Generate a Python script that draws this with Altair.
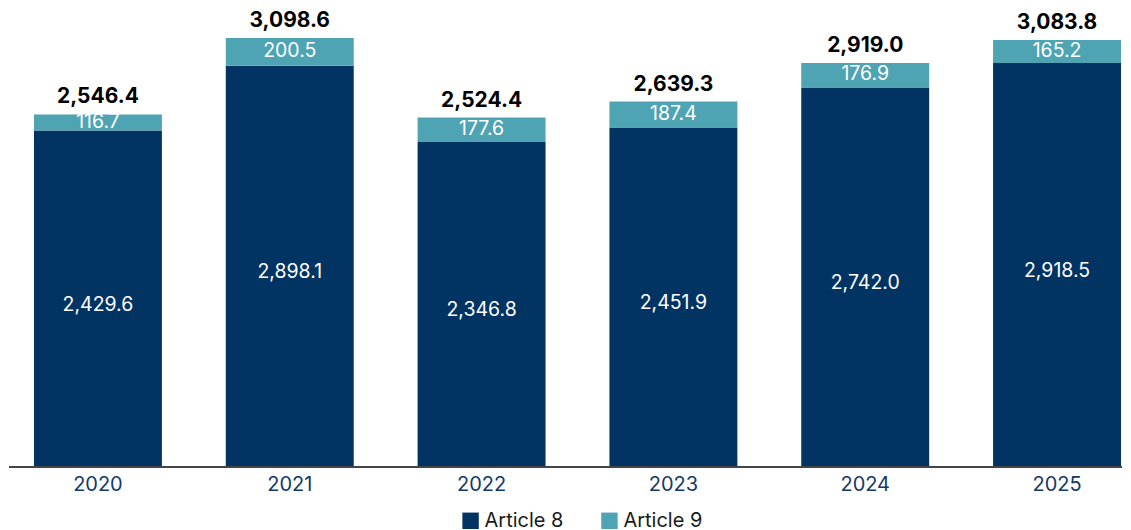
import altair as alt
import pandas as pd

years = ["2020", "2021", "2022", "2023", "2024", "2025"]
article8 = [2429.6, 2898.1, 2346.8, 2451.9, 2742.0, 2918.5]
article9 = [116.7, 200.5, 177.6, 187.4, 176.9, 165.2]
totals = [2546.4, 3098.6, 2524.4, 2639.3, 2919.0, 3083.8]
series = ["Article 8", "Article 9"]

NAVY = "#023463"
TEAL = "#4FA4B4"
FONT = "Inter"
W, H = 1114, 459

rows = []
for i, y in enumerate(years):
    rows.append({"year": y, "series": series[0], "value": article8[i], "ord": 0,
                 "mid": article8[i] / 2})
    rows.append({"year": y, "series": series[1], "value": article9[i], "ord": 1,
                 "mid": article8[i] + article9[i] / 2})
df = pd.DataFrame(rows)
tot = pd.DataFrame({"year": years, "total": totals})

xscale = alt.Scale(domain=years, range=[25, 1113], paddingInner=0.333, paddingOuter=0)
yscale = alt.Scale(domain=[0, 3314], nice=False)

xenc = alt.X("year:N", scale=xscale, sort=years,
             axis=alt.Axis(title=None, domain=False, ticks=False, labelAngle=0,
                           labelFont=FONT, labelFontSize=20, labelColor="#12386A",
                           labelPadding=8))

bars = alt.Chart(df).mark_bar().encode(
    x=xenc,
    y=alt.Y("value:Q", stack="zero", scale=yscale, axis=None),
    color=alt.Color("series:N", scale=alt.Scale(domain=series, range=[NAVY, TEAL]),
                    legend=alt.Legend(title=None, orient="none", direction="horizontal",
                                      legendX=452, legendY=503, symbolType="square",
                                      symbolSize=270, symbolStrokeWidth=0,
                                      labelFont=FONT, labelFontSize=20,
                                      labelColor="#1a1a1a", columnPadding=36,
                                      symbolOffset=0, labelOffset=4)),
    order=alt.Order("ord:Q"),
)

lab8 = alt.Chart(df[df["ord"] == 0]).mark_text(
    font=FONT, fontSize=19.5, color="white", baseline="middle", dy=6
).encode(
    x=alt.X("year:N", scale=xscale, sort=years),
    y=alt.Y("mid:Q", scale=yscale),
    text=alt.Text("value:Q", format=",.1f"),
)

lab9 = alt.Chart(df[df["ord"] == 1]).mark_text(
    font=FONT, fontSize=19.5, color="white", baseline="middle", dy=-1
).encode(
    x=alt.X("year:N", scale=xscale, sort=years),
    y=alt.Y("mid:Q", scale=yscale),
    text=alt.Text("value:Q", format=",.1f"),
)

labt = alt.Chart(tot).mark_text(
    font=FONT, fontSize=21, fontWeight="bold", color="#000000", baseline="bottom", dy=-7
).encode(
    x=alt.X("year:N", scale=xscale, sort=years),
    y=alt.Y("total:Q", scale=yscale),
    text=alt.Text("total:Q", format=",.1f"),
)

base = alt.Chart(tot).mark_rule(color="#444444", strokeWidth=1.5).encode(
    x=alt.value(0), x2=alt.value(W), y=alt.value(H)
)

chart = alt.layer(bars, base, lab8, lab9, labt).properties(
    width=W, height=H, padding={"left": 0, "right": 0, "top": 0, "bottom": 0}
).configure(background="white").configure_view(stroke=None)

chart.save("out.html", embed_options={"renderer": "svg", "actions": False})
